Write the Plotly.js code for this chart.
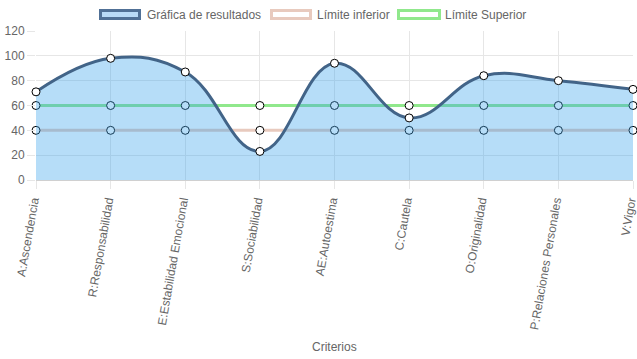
<!DOCTYPE html>
<html>
<head>
<meta charset="utf-8">
<script src="https://cdn.plot.ly/plotly-3.0.1.min.js"></script>
<style>
html,body{margin:0;padding:0;background:#fff;}
#chart{width:637px;height:359px;}
</style>
</head>
<body>
<div id="chart"></div>
<script>
const categories = ["A:Ascendencia","R:Responsabilidad","E:Estabilidad Emocional","S:Sociabilidad","AE:Autoestima","C:Cautela","O:Originalidad","P:Relaciones Personales","V:Vigor"];
const resultados = [71, 98, 87, 23, 94, 50, 84, 80, 73];
const limiteInferior = [40, 40, 40, 40, 40, 40, 40, 40, 40];
const limiteSuperior = [60, 60, 60, 60, 60, 60, 60, 60, 60];
const seriesNames = ["Gráfica de resultados", "Límite inferior", "Límite Superior"];
const axisTitleX = "Criterios";
const yTicks = [0, 20, 40, 60, 80, 100, 120];

const W = 637, H = 359;
const M = {l: 36, r: 4, t: 31, b: 179};
const pw = W - M.l - M.r, ph = H - M.t - M.b;
const px = x => (x - M.l) / pw;
const py = y => (H - M.b - y) / ph;

const FONT = "Liberation Sans, Arial, Helvetica, sans-serif";
const colLine = "rgb(66,100,136)";
const colFill = "rgba(54,162,235,0.36)";
const colInf = "rgb(232,202,190)";
const colSup = "rgb(144,232,140)";

const markerStyle = {size: 8, color: "#fff", line: {color: "#000", width: 1}};

const traces = [
  {x: categories, y: limiteInferior, name: seriesNames[1], type: "scatter", mode: "lines+markers",
   line: {color: colInf, width: 3}, marker: markerStyle, hoverinfo: "none", cliponaxis: false},
  {x: categories, y: limiteSuperior, name: seriesNames[2], type: "scatter", mode: "lines+markers",
   line: {color: colSup, width: 3}, marker: markerStyle, hoverinfo: "none", cliponaxis: false},
  {x: categories, y: resultados, name: seriesNames[0], type: "scatter", mode: "lines+markers",
   fill: "tozeroy", fillcolor: colFill,
   line: {color: colLine, width: 3, shape: "spline", smoothing: 1.2}, marker: markerStyle, hoverinfo: "none", cliponaxis: false}
];

// custom legend (Chart.js style boxes)
const legendBoxes = [
  {x0: 100.5, x1: 139.5, fill: "rgb(185,218,247)", line: "rgb(80,112,150)"},
  {x0: 271.5, x1: 310.5, fill: "#fff", line: colInf},
  {x0: 398.5, x1: 439.5, fill: "#fff", line: colSup}
];
const legendTextX = [145, 315, 443];

const shapes = legendBoxes.map(b => ({
  type: "rect", xref: "paper", yref: "paper",
  x0: px(b.x0), x1: px(b.x1), y0: py(10.5), y1: py(18.5),
  fillcolor: b.fill, line: {color: b.line, width: 3}, layer: "above"
}));

const annotations = seriesNames.map((n, i) => ({
  text: n, xref: "paper", yref: "paper", x: px(legendTextX[i]), y: py(15),
  xanchor: "left", yanchor: "middle", showarrow: false,
  font: {family: FONT, size: 12, color: "#666"}
}));
annotations.push({
  text: axisTitleX, xref: "paper", yref: "paper", x: px(334), y: py(347),
  xanchor: "center", yanchor: "middle", showarrow: false,
  font: {family: FONT, size: 12, color: "#666"}
});

const layout = {
  width: W, height: H,
  margin: M,
  paper_bgcolor: "#fff", plot_bgcolor: "#fff",
  showlegend: false,
  font: {family: FONT, size: 12, color: "#666"},
  xaxis: {
    type: "category", range: [0, categories.length - 1],
    showgrid: true, gridcolor: "#e6e6e6", gridwidth: 1,
    ticks: "outside", ticklen: 8, tickcolor: "#e6e6e6",
    tickangle: -80, ticklabelshift: -3, tickfont: {family: FONT, size: 12, color: "#666"},
    zeroline: false, showline: false, automargin: false, fixedrange: true
  },
  yaxis: {
    range: [0, 120], tickvals: yTicks,
    showgrid: true, gridcolor: "#e6e6e6", gridwidth: 1,
    ticks: "outside", ticklen: 8, tickcolor: "#e6e6e6",
    tickfont: {family: FONT, size: 12, color: "#666"},
    zeroline: true, zerolinecolor: "#d0d0d0", zerolinewidth: 1,
    showline: false, automargin: false, fixedrange: true
  },
  shapes: shapes,
  annotations: annotations
};

Plotly.newPlot("chart", traces, layout, {displayModeBar: false, staticPlot: true});
</script>
</body>
</html>
